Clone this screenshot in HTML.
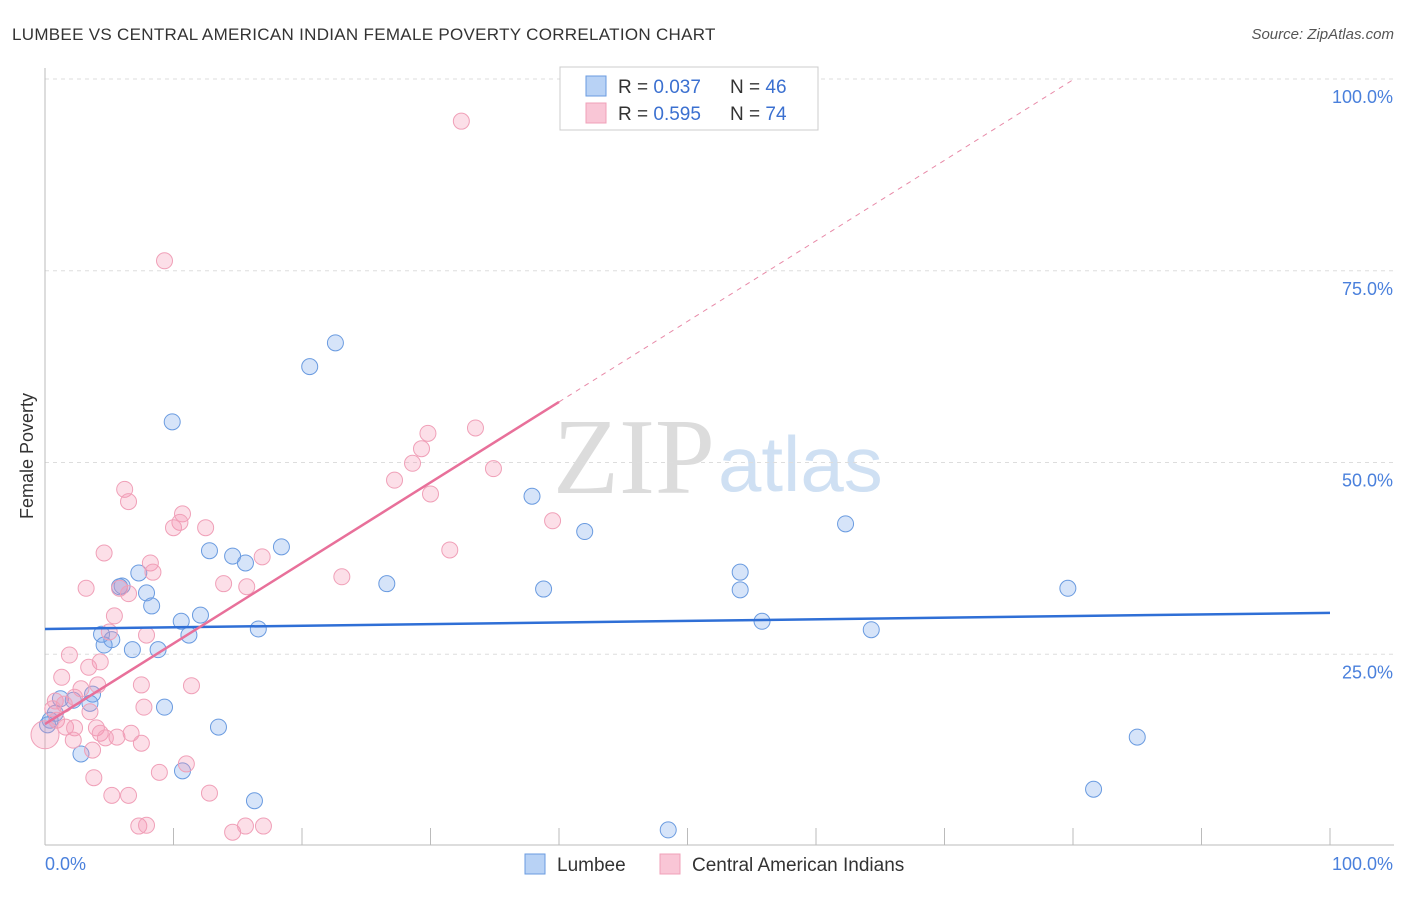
<!DOCTYPE html>
<html><head><meta charset="utf-8"><style>
body{margin:0;background:#fff;width:1406px;height:892px;overflow:hidden;font-family:"Liberation Sans",sans-serif}
</style></head><body>
<svg id="chart" width="1406" height="892" xmlns="http://www.w3.org/2000/svg">
<text x="12" y="40" font-size="17" fill="#333" letter-spacing="0.3">LUMBEE VS CENTRAL AMERICAN INDIAN FEMALE POVERTY CORRELATION CHART</text>
<text x="1394" y="39" font-size="15" fill="#555" font-style="italic" text-anchor="end">Source: ZipAtlas.com</text>
<text x="0" y="0" transform="translate(33,456) rotate(-90)" font-size="18" fill="#333" text-anchor="middle">Female Poverty</text>
<g>
<text x="553" y="493" font-family="Liberation Serif,serif" font-size="108" fill="#dcdcdc">ZIP</text>
<text x="718" y="491" font-size="78" fill="#cfe0f3">atlas</text>
</g>
<g id="grid"></g><g id="axes"></g><g id="lines"></g><g id="pts"></g>
<g>
<rect x="560" y="67" width="258" height="63" fill="#fff" stroke="#ccc"/>
<rect x="586" y="76" width="20" height="20" fill="#b8d2f5" stroke="#6a9be0"/>
<rect x="586" y="103" width="20" height="20" fill="#f9c6d6" stroke="#f0a0b8"/>
<text x="618" y="93" font-size="19" fill="#333">R = <tspan fill="#3b70d0">0.037</tspan></text>
<text x="730" y="93" font-size="19" fill="#333">N = <tspan fill="#3b70d0">46</tspan></text>
<text x="618" y="120" font-size="19" fill="#333">R = <tspan fill="#3b70d0">0.595</tspan></text>
<text x="730" y="120" font-size="19" fill="#333">N = <tspan fill="#3b70d0">74</tspan></text>
</g>
<g>
<rect x="525" y="854" width="20" height="20" fill="#b8d2f5" stroke="#6a9be0"/>
<text x="557" y="871" font-size="19" fill="#333">Lumbee</text>
<rect x="660" y="854" width="20" height="20" fill="#f9c6d6" stroke="#f0a0b8"/>
<text x="692" y="871" font-size="19" fill="#333">Central American Indians</text>
</g>
</svg>
<script>
const xTicks=[0,10,20,30,40,50,60,70,80,90,100];
const yTickVals=[25,50,75,100];
const yTickLabels=["25.0%","50.0%","75.0%","100.0%"];
const blueX=[22.6,20.6,9.9,37.9,62.3,42.0,12.8,18.4,14.6,15.6,7.3,54.1,6.0,7.9,26.6,38.8,79.6,8.3,12.1,10.6,55.8,16.6,64.3,4.4,11.2,5.2,4.6,6.8,8.8,3.7,1.2,2.2,3.5,0.8,0.4,9.3,13.5,85.0,2.8,10.7,16.3,81.6,48.5,0.2,54.1,5.8];
const blueY=[65.6,62.5,55.3,45.6,42.0,41.0,38.5,39.0,37.8,36.9,35.6,35.7,33.9,33.0,34.2,33.5,33.6,31.3,30.1,29.3,29.3,28.3,28.2,27.6,27.5,26.9,26.2,25.6,25.6,19.8,19.2,19.0,18.6,17.3,16.4,18.1,15.5,14.2,12.0,9.8,5.9,7.4,2.1,15.8,33.4,33.8];
const pinkX=[32.4,9.3,33.5,29.8,29.3,28.6,34.9,27.2,30.0,6.2,6.5,39.5,10.7,10.5,10.0,12.5,31.5,4.6,8.2,8.4,16.9,23.1,13.9,15.7,3.2,5.8,6.5,5.4,5.0,7.9,1.9,4.3,3.4,1.3,2.8,4.1,7.5,11.4,2.3,0.8,1.5,0.6,7.7,3.5,0.9,1.6,2.3,4.0,4.3,5.6,6.7,4.7,2.2,7.5,3.7,11.0,8.9,3.8,5.2,6.5,12.8,7.3,7.9,14.6,15.6,17.0];
const pinkY=[94.5,76.3,54.5,53.8,51.8,49.9,49.2,47.7,45.9,46.5,44.9,42.4,43.3,42.2,41.5,41.5,38.6,38.2,36.9,35.7,37.7,35.1,34.2,33.8,33.6,33.6,32.9,30.0,27.9,27.5,24.9,24.0,23.3,22.0,20.5,21.0,21.0,20.9,19.4,18.9,18.5,17.9,18.1,17.5,16.4,15.5,15.4,15.4,14.7,14.2,14.7,14.1,13.8,13.4,12.5,10.7,9.6,8.9,6.6,6.6,6.9,2.6,2.7,1.8,2.6,2.6];
const blueFit=[28.3,30.4];
const pinkFit=[15.9,1.05];
const NS="http://www.w3.org/2000/svg";
const sx=v=>45+v*12.85, sy=v=>846-v*7.67;
function mk(p,t,a){const e=document.createElementNS(NS,t);for(const k in a)e.setAttribute(k,a[k]);document.getElementById(p).appendChild(e);return e;}
yTickVals.forEach((v,i)=>{
 const g=mk('grid','line',{x1:45,x2:1394,y1:sy(v),y2:sy(v),stroke:'#ddd','stroke-dasharray':'4,4'});
 
 
 const t=mk('grid','text',{x:1393,y:sy(v)+24,'font-size':18,fill:'#4a80dc','text-anchor':'end'});t.textContent=yTickLabels[i];
 
 
});
mk('axes','line',{x1:45,x2:45,y1:68,y2:845,stroke:'#bbb'});
mk('axes','line',{x1:45,x2:1394,y1:845,y2:845,stroke:'#bbb'});
xTicks.forEach(v=>{const l=mk('axes','line',{x1:sx(v),x2:sx(v),y1:828,y2:845,stroke:'#bbb'});
 
 });
let t0=mk('axes','text',{x:45,y:870,'font-size':18,fill:'#4a80dc'});t0.textContent='0.0%';


let t1=mk('axes','text',{x:1393,y:870,'font-size':18,fill:'#4a80dc','text-anchor':'end'});t1.textContent='100.0%';


const pe=(100-pinkFit[0])/pinkFit[1];
let pd=mk('lines','line',{x1:sx(40),y1:sy(pinkFit[0]+pinkFit[1]*40),x2:sx(pe),y2:sy(100),stroke:'#e88aa8','stroke-dasharray':'5,5','stroke-width':1});


blueX.forEach((x,i)=>{const c=mk('pts','circle',{cx:sx(x),cy:sy(blueY[i]),r:8,fill:'rgba(120,165,235,0.3)',stroke:'#6a9be0','stroke-width':1});
 
 });
pinkX.forEach((x,i)=>{const c=mk('pts','circle',{cx:sx(x),cy:sy(pinkY[i]),r:8,fill:'rgba(245,150,180,0.3)',stroke:'#f0a0b8','stroke-width':1});
 
 });
let big=mk('pts','circle',{cx:sx(0),cy:sy(14.5),r:14,fill:'rgba(245,150,180,0.3)',stroke:'#f0a0b8'});


let bl=mk('pts','line',{x1:sx(0),y1:sy(blueFit[0]),x2:sx(100),y2:sy(blueFit[1]),stroke:'#2f6fd6','stroke-width':2.5});


let pl=mk('pts','line',{x1:sx(0),y1:sy(pinkFit[0]),x2:sx(40),y2:sy(pinkFit[0]+pinkFit[1]*40),stroke:'#e8709a','stroke-width':2.5});


</script>
</body></html>
